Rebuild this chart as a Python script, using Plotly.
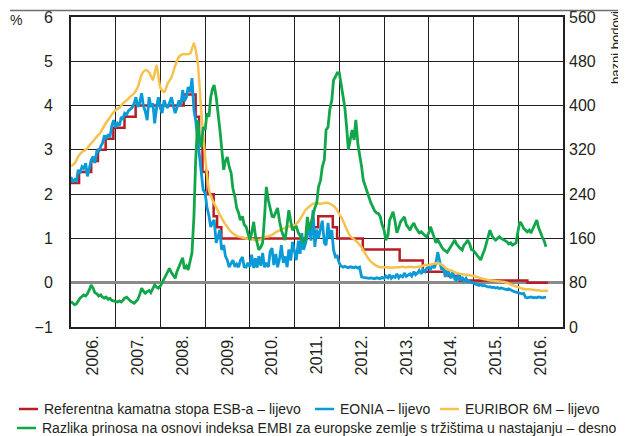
import pandas as pd
import plotly.graph_objects as go

# ---- data -------------------------------------------------------------
years = list(range(2006, 2017))
year_labels = [f"{y}." for y in years]

# ECB main refinancing rate (%), step changes
ecb_dates = [
    "2006-01-01", "2006-03-08", "2006-06-15", "2006-08-09", "2006-10-11",
    "2006-12-13", "2007-03-14", "2007-06-13", "2008-07-09", "2008-10-15",
    "2008-11-12", "2008-12-10", "2009-01-21", "2009-03-11", "2009-04-08",
    "2009-05-13", "2011-04-13", "2011-07-13", "2011-11-09", "2011-12-14",
    "2012-07-11", "2013-05-08", "2013-11-13", "2014-06-11", "2014-09-10",
    "2016-03-16", "2016-08-31",
]
ecb_rate = [
    2.25, 2.50, 2.75, 3.00, 3.25, 3.50, 3.75, 4.00, 4.25, 3.75,
    3.25, 2.50, 2.00, 1.50, 1.25, 1.00, 1.25, 1.50, 1.25, 1.00,
    0.75, 0.50, 0.25, 0.15, 0.05, 0.00, 0.00,
]

# semi-monthly observations (1st and 15th), Jan 2006 - Aug 2016
semi_dates = pd.date_range("2006-01-01", "2016-08-15", freq="SMS")

eonia = [
    # 2006
    2.39, 2.27, 2.33, 2.30, 2.55, 2.47, 2.62, 2.58, 2.70, 2.40, 2.60, 2.77,
    2.85, 2.70, 3.00, 2.95, 3.08, 3.15, 3.33, 3.25, 3.35, 3.29, 3.55, 3.67,
    # 2007
    3.51, 3.60, 3.55, 3.74, 3.70, 3.83, 3.80, 3.88, 3.92, 3.95, 4.05, 4.19,
    3.97, 4.05, 4.28, 4.00, 3.85, 3.67, 4.19, 3.97, 4.05, 3.60, 3.95, 4.19,
    # 2008
    3.95, 3.83, 4.12, 4.00, 3.95, 4.05, 4.19, 4.00, 3.83, 3.95, 4.12, 4.00,
    4.35, 4.10, 4.19, 4.42, 4.30, 4.62, 3.90, 3.67, 3.20, 2.93, 2.39, 2.10,
    # 2009
    2.02, 1.71, 1.50, 1.26, 1.35, 1.42, 0.90, 1.05, 1.19, 0.74, 0.85, 0.60,
    0.51, 0.35, 0.45, 0.51, 0.36, 0.42, 0.35, 0.50, 0.58, 0.36, 0.35, 0.45,
    # 2010
    0.36, 0.63, 0.33, 0.55, 0.34, 0.60, 0.38, 0.67, 0.35, 0.45, 0.35, 0.70,
    0.78, 0.40, 0.65, 0.35, 0.55, 0.85, 0.45, 0.60, 0.35, 0.75, 0.50, 0.92,
    # 2011
    0.70, 0.51, 0.95, 0.65, 1.12, 0.74, 0.90, 1.10, 1.30, 0.95, 1.64, 0.81,
    1.20, 1.00, 1.23, 1.40, 0.90, 0.85, 1.35, 1.00, 1.19, 0.74, 0.58, 0.60,
    # 2012
    0.44, 0.38, 0.35, 0.37, 0.35, 0.34, 0.36, 0.35, 0.34, 0.36, 0.33, 0.35,
    0.13, 0.12, 0.11, 0.11, 0.10, 0.11, 0.10, 0.09, 0.11, 0.10, 0.09, 0.12,
    # 2013
    0.10, 0.15, 0.11, 0.18, 0.10, 0.14, 0.12, 0.20, 0.11, 0.16, 0.13, 0.22,
    0.14, 0.17, 0.20, 0.15, 0.25, 0.18, 0.22, 0.28, 0.20, 0.29, 0.25, 0.33,
    # 2014
    0.35, 0.30, 0.40, 0.33, 0.45, 0.69, 0.44, 0.30, 0.35, 0.13, 0.30, 0.22,
    0.10, 0.25, 0.08, 0.06, 0.20, 0.05, 0.13, 0.04, 0.10, 0.02, 0.03, 0.00,
    # 2015
    0.00, -0.03, -0.05, -0.06, -0.04, -0.07, -0.06, -0.08, -0.10, -0.09, -0.11, -0.10,
    -0.12, -0.11, -0.13, -0.12, -0.14, -0.15, -0.16, -0.14, -0.17, -0.18, -0.20, -0.21,
    # 2016
    -0.22, -0.24, -0.25, -0.24, -0.33, -0.34, -0.33, -0.32,
    -0.34, -0.33, -0.34, -0.32, -0.33, -0.34, -0.33, -0.33,
]

embi_spread = [
    # 2006
    46, 44, 40, 42, 48, 52, 55, 58, 56, 60, 68, 76,
    70, 62, 60, 56, 58, 54, 52, 54, 50, 52, 48, 47,
    # 2007
    46, 45, 47, 45, 48, 52, 54, 50, 47, 45, 43, 46,
    50, 58, 70, 65, 61, 64, 66, 62, 70, 76, 72, 70,
    # 2008
    74, 80, 90, 94, 100, 106, 98, 92, 88, 100, 110, 118,
    125, 105, 110, 103, 121, 134, 200, 300, 374, 340, 325, 361,
    # 2009
    356, 386, 380, 415, 430, 437, 415, 390, 356, 325, 284, 300,
    307, 290, 278, 250, 235, 215, 206, 193, 200, 185, 181, 170,
    # 2010
    157, 170, 190, 165, 150, 139, 145, 152, 200, 253, 229, 217,
    200, 199, 207, 215, 190, 175, 165, 157, 185, 211, 190, 175,
    # 2011
    180, 181, 170, 165, 157, 154, 160, 199, 175, 188, 200, 215,
    224, 253, 265, 289, 302, 356, 361, 392, 410, 446, 452, 459,
    # 2012
    459, 440, 420, 397, 361, 320, 340, 356, 338, 374, 330, 314,
    290, 265, 253, 242, 230, 224, 217, 210, 206, 205, 199, 185,
    # 2013
    175, 157, 165, 193, 200, 208, 190, 170, 180, 190, 195, 199,
    185, 180, 175, 182, 188, 180, 175, 170, 172, 168, 165, 163,
    # 2014
    170, 181, 170, 160, 152, 158, 150, 145, 140, 138, 135, 140,
    145, 150, 157, 150, 145, 142, 139, 148, 152, 157, 150, 140,
    # 2015
    138, 134, 130, 125, 121, 130, 139, 150, 165, 175, 165, 160,
    157, 160, 163, 160, 158, 155, 154, 150, 152, 148, 150, 152,
    # 2016
    175, 190, 185, 178, 175, 172, 175, 170,
    178, 185, 193, 180, 170, 163, 155, 145,
]

# monthly observations, Jan 2006 - Sep 2016
month_dates = pd.date_range("2006-01-01", "2016-09-01", freq="MS")

euribor_6m = [
    2.63, 2.70, 2.85, 2.95, 3.00, 3.10, 3.20, 3.30, 3.40, 3.55, 3.68, 3.80,  # 2006
    3.90, 3.95, 4.05, 4.12, 4.20, 4.28, 4.42, 4.70, 4.80, 4.75, 4.58, 4.91,  # 2007
    4.40, 4.30, 4.50, 4.64, 4.90, 5.10, 5.16, 5.16, 5.18, 5.41, 4.96, 3.83,  # 2008
    2.84, 2.09, 1.87, 1.70, 1.53, 1.38, 1.26, 1.15, 1.08, 1.04, 1.02, 1.00,  # 2009
    0.99, 0.97, 0.96, 0.98, 1.03, 1.05, 1.08, 1.14, 1.18, 1.22, 1.26, 1.28,  # 2010
    1.30, 1.38, 1.50, 1.64, 1.72, 1.78, 1.80, 1.78, 1.80, 1.80, 1.76, 1.69,  # 2011
    1.55, 1.40, 1.20, 1.05, 0.98, 0.90, 0.80, 0.65, 0.52, 0.44, 0.38, 0.35,  # 2012
    0.35, 0.35, 0.34, 0.35, 0.35, 0.36, 0.35, 0.36, 0.35, 0.36, 0.37, 0.40,  # 2013
    0.40, 0.42, 0.44, 0.43, 0.38, 0.30, 0.28, 0.24, 0.21, 0.19, 0.18, 0.17,  # 2014
    0.15, 0.13, 0.10, 0.08, 0.06, 0.05, 0.04, 0.03, 0.02, 0.00, -0.04, -0.07,  # 2015
    -0.10, -0.13, -0.15, -0.15, -0.16, -0.17, -0.18, -0.18, -0.18,  # 2016
]

legend_labels = [
    "Referentna kamatna stopa ESB-a – lijevo",
    "EONIA – lijevo",
    "EURIBOR 6M – lijevo",
    "Razlika prinosa na osnovi indeksa EMBI za europske zemlje s tržištima u nastajanju – desno",
]

# ---- styling ----------------------------------------------------------
RED = "#b81c25"
BLUE = "#0a9ad7"
YELLOW = "#f6c24d"
GREEN = "#12a64b"
INK = "#231f20"
FONT = "Liberation Sans, Arial, sans-serif"

# the page body keeps its default 8px margin, so the figure is drawn 8px
# smaller than the window and all page positions below are shifted by it
PAGE_W, PAGE_H, BODY = 626, 436, 8
W, H = PAGE_W - BODY, PAGE_H - BODY
PLOT_LEFT, PLOT_RIGHT, PLOT_TOP, PLOT_BOTTOM = 71, 563, 17, 327  # page pixels
L, T = PLOT_LEFT - BODY, PLOT_TOP - BODY
R, B = W - (PLOT_RIGHT - BODY), H - (PLOT_BOTTOM - BODY)
PW, PH = PLOT_RIGHT - PLOT_LEFT, PLOT_BOTTOM - PLOT_TOP


def px(x):
    return (x - PLOT_LEFT) / PW


def py(y):
    return (PLOT_BOTTOM - y) / PH


fig = go.Figure()
fig.add_trace(go.Scatter(x=ecb_dates, y=ecb_rate, mode="lines", line_shape="hv",
                         line=dict(color=RED, width=2.5), name=legend_labels[0]))
fig.add_trace(go.Scatter(x=semi_dates, y=eonia, mode="lines",
                         line=dict(color=BLUE, width=2.8), name=legend_labels[1]))
fig.add_trace(go.Scatter(x=month_dates, y=euribor_6m, mode="lines",
                         line=dict(color=YELLOW, width=2.5, shape="spline", smoothing=0.6),
                         name=legend_labels[2]))
fig.add_trace(go.Scatter(x=semi_dates, y=embi_spread, mode="lines", yaxis="y2",
                         line=dict(color=GREEN, width=2.8), name=legend_labels[3]))

fig.update_layout(
    width=W, height=H,
    margin=dict(l=L, r=R, t=T, b=B, autoexpand=False),
    paper_bgcolor="white", plot_bgcolor="white",
    showlegend=False,
    font=dict(family=FONT, color=INK, size=16),
    xaxis=dict(
        type="date", range=["2006-01-01", "2017-01-01"], automargin=False,
        tickvals=[f"{y}-07-02" for y in years], ticktext=year_labels,
        tickangle=-90, ticks="", showgrid=False,
        minor=dict(dtick="M12", tick0="2006-01-01", showgrid=True,
                   gridcolor=INK, gridwidth=1.3, ticks=""),
        showline=True, linecolor=INK, linewidth=2, mirror=True,
        tickfont=dict(size=16),
    ),
    yaxis=dict(
        range=[-1, 6], dtick=1, showgrid=True, gridcolor=INK, gridwidth=1.3,
        zeroline=True, zerolinecolor="#8a8a8a", zerolinewidth=2.5, automargin=False,
        showline=True, linecolor=INK, linewidth=2, mirror=True,
        ticks="", ticklabelstandoff=13, tickfont=dict(size=16),
    ),
    yaxis2=dict(
        range=[0, 560], dtick=80, overlaying="y", side="right", automargin=False,
        showgrid=False, zeroline=False, ticks="", ticklabelstandoff=5,
        tickfont=dict(size=16),
    ),
)

# unit labels and top rule (the rule sits at the top edge of the figure)
fig.add_annotation(x=px(8), y=py(20), xref="paper", yref="paper", text="%",
                   showarrow=False, xanchor="left", yanchor="middle", font=dict(size=14))
fig.add_annotation(x=px(616), y=py(48), xref="paper", yref="paper", text="bazni bodovi",
                   showarrow=False, textangle=-90, xanchor="center", yanchor="middle",
                   font=dict(size=13))
fig.add_shape(type="line", xref="paper", yref="paper", x0=px(10), x1=px(625),
              y0=py(10.5), y1=py(10.5), line=dict(color="#6e6e6e", width=1.5),
              layer="above")

# legend drawn below the plot
legend_items = [
    (legend_labels[0], RED, 19, 409),
    (legend_labels[1], BLUE, 315, 409),
    (legend_labels[2], YELLOW, 440, 409),
    (legend_labels[3], GREEN, 17, 428),
]
for label, color, x0, yc in legend_items:
    fig.add_shape(type="line", xref="paper", yref="paper", x0=px(x0), x1=px(x0 + 19),
                  y0=py(yc), y1=py(yc), line=dict(color=color, width=2.5))
    fig.add_annotation(x=px(x0 + 23), y=py(yc), xref="paper", yref="paper", text=label,
                       showarrow=False, xanchor="left", yanchor="middle",
                       font=dict(size=14))

fig.write_html("out.html")
